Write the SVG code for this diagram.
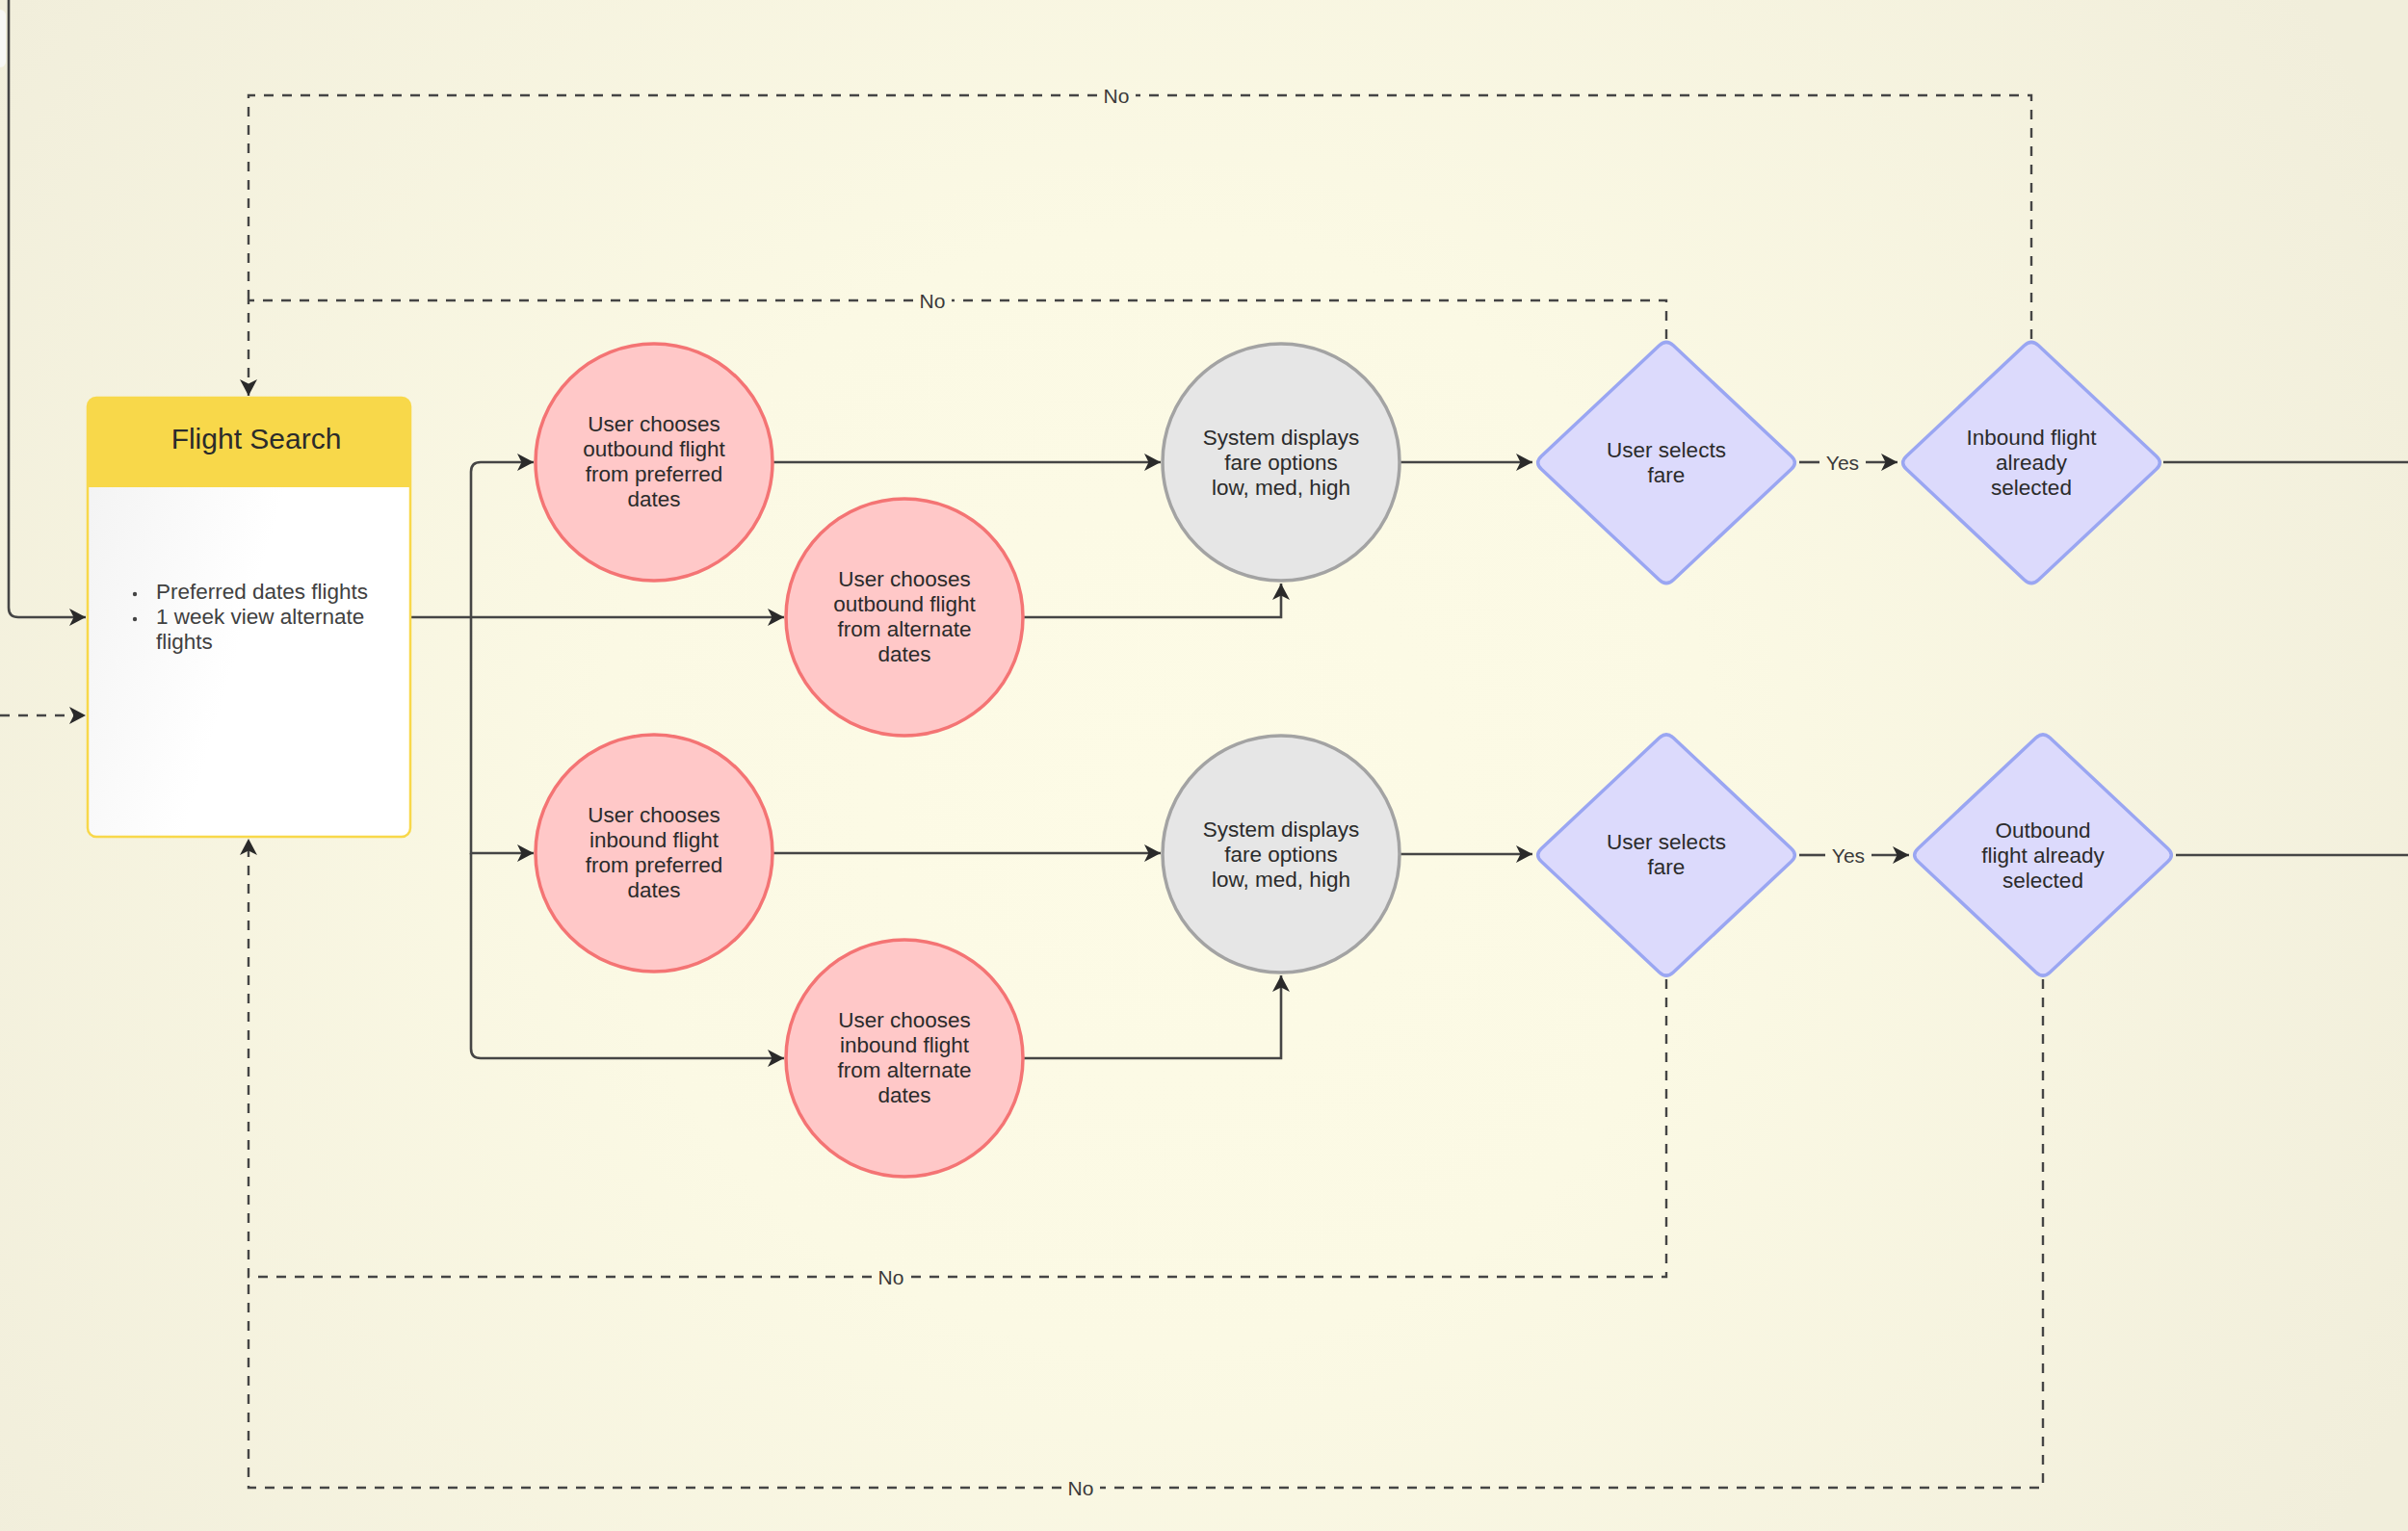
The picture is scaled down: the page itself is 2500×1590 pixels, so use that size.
<svg xmlns="http://www.w3.org/2000/svg" width="2500" height="1590" viewBox="0 0 2500 1590">
<defs>
<radialGradient id="bg" gradientUnits="userSpaceOnUse" cx="1200" cy="820" r="1450">
<stop offset="0" stop-color="#fdfbe6"/>
<stop offset="0.4" stop-color="#fbf9e4"/>
<stop offset="1" stop-color="#f1eedb"/>
</radialGradient>
<linearGradient id="body" x1="0" y1="0" x2="1" y2="0.4">
<stop offset="0" stop-color="#f2f2f2"/>
<stop offset="0.6" stop-color="#ffffff"/>
<stop offset="1" stop-color="#ffffff"/>
</linearGradient>
<marker id="arr" markerUnits="userSpaceOnUse" markerWidth="20" markerHeight="20" refX="17" refY="9" orient="auto">
<path d="M0,0 L17,9 L0,18 L4.5,9 Z" fill="#2a2a2a"/>
</marker>
<path id="diamond" d="M-7.3,-121.7 Q0,-128.5 7.3,-121.7 L129.7,-6.8 Q137,0 129.7,6.8 L7.3,121.7 Q0,128.5 -7.3,121.7 L-129.7,6.8 Q-137,0 -129.7,-6.8 Z"/>
<style>
.txt{font-family:"Liberation Sans",Arial,sans-serif;fill:#2b2b2b;text-anchor:middle;}
.ntxt{font-size:22.5px;}
.lbl{font-family:"Liberation Sans",Arial,sans-serif;fill:#3a3a3a;font-size:21px;text-anchor:middle;}
.red{fill:#ffc8c8;stroke:#f47474;stroke-width:3.5;}
.gray{fill:#e6e6e6;stroke:#a3a3a3;stroke-width:3.5;}
.dia{fill:#dcdafc;stroke:#9aa6f2;stroke-width:3.5;}
.conn{fill:none;stroke:#454545;stroke-width:2.6;}
.dash{fill:none;stroke:#454545;stroke-width:2.4;stroke-dasharray:10,9;}
</style>
</defs>
<rect x="0" y="0" width="2500" height="1590" fill="url(#bg)"/>
<rect x="-20" y="10" width="26" height="60" rx="6" fill="#f8f8f6"/>

<g id="connectors">
<path class="conn" d="M9,0 V631 Q9,641 19,641 H89" marker-end="url(#arr)"/>
<path class="dash" d="M0,743 H89" marker-end="url(#arr)"/>
<path class="conn" d="M426,641 H814" marker-end="url(#arr)"/>
<path class="conn" d="M489,641 V490 Q489,480 499,480 H554" marker-end="url(#arr)"/>
<path class="conn" d="M489,641 V886 H554" marker-end="url(#arr)"/>
<path class="conn" d="M489,886 V1089 Q489,1099 499,1099 H814" marker-end="url(#arr)"/>
<path class="conn" d="M803,480 H1205" marker-end="url(#arr)"/>
<path class="conn" d="M1063,641 H1330 V606" marker-end="url(#arr)"/>
<path class="conn" d="M803,886 H1205" marker-end="url(#arr)"/>
<path class="conn" d="M1063,1099 H1330 V1013" marker-end="url(#arr)"/>
<path class="conn" d="M1453,480 H1591" marker-end="url(#arr)"/>
<path class="conn" d="M1453,887 H1591" marker-end="url(#arr)"/>
<path class="conn" d="M1868,480 H1889"/>
<path class="conn" d="M1937,480 H1970" marker-end="url(#arr)"/>
<text class="lbl" x="1913" y="488">Yes</text>
<path class="conn" d="M1868,888 H1895"/>
<path class="conn" d="M1943,888 H1982" marker-end="url(#arr)"/>
<text class="lbl" x="1919" y="896">Yes</text>
<path class="conn" d="M2246,480 H2500"/>
<path class="conn" d="M2259,888 H2500"/>
<path class="dash" d="M1730,352 V312 H988"/>
<path class="dash" d="M948,312 H258 V411" marker-end="url(#arr)"/>
<text class="lbl" x="968" y="320">No</text>
<path class="dash" d="M2109,352 V99 H1179"/>
<path class="dash" d="M1139,99 H258 V312"/>
<text class="lbl" x="1159" y="107">No</text>
<path class="dash" d="M1730,1017 V1326 H945"/>
<path class="dash" d="M905,1326 H258 V871" marker-end="url(#arr)"/>
<text class="lbl" x="925" y="1334">No</text>
<path class="dash" d="M2121,1017 V1545 H1142"/>
<path class="dash" d="M1102,1545 H258 V1326"/>
<text class="lbl" x="1122" y="1553">No</text>
</g>

<g id="flight-search">
<rect x="91" y="413" width="335" height="456" rx="9" fill="url(#body)" stroke="#f8d84a" stroke-width="2.5"/>
<path d="M91,506 V422 Q91,413 100,413 H417 Q426,413 426,422 V506 Z" fill="#f8d84a"/>
<text class="txt" x="266" y="466" font-size="30">Flight Search</text>
<circle cx="140" cy="617" r="2.2" fill="#444"/>
<circle cx="140" cy="643" r="2.2" fill="#444"/>
<text font-family="Liberation Sans, Arial, sans-serif" font-size="22.5" fill="#404040">
<tspan x="162" y="622">Preferred dates flights</tspan>
<tspan x="162" y="648">1 week view alternate</tspan>
<tspan x="162" y="674">flights</tspan>
</text>
</g>

<g id="outbound-preferred">
<circle class="red" cx="679" cy="480" r="123"/>
<text class="txt ntxt"><tspan x="679" y="448">User chooses</tspan><tspan x="679" y="474">outbound flight</tspan><tspan x="679" y="500">from preferred</tspan><tspan x="679" y="526">dates</tspan></text>
</g>
<g id="outbound-alternate">
<circle class="red" cx="939" cy="641" r="123"/>
<text class="txt ntxt"><tspan x="939" y="609">User chooses</tspan><tspan x="939" y="635">outbound flight</tspan><tspan x="939" y="661">from alternate</tspan><tspan x="939" y="687">dates</tspan></text>
</g>
<g id="inbound-preferred">
<circle class="red" cx="679" cy="886" r="123"/>
<text class="txt ntxt"><tspan x="679" y="854">User chooses</tspan><tspan x="679" y="880">inbound flight</tspan><tspan x="679" y="906">from preferred</tspan><tspan x="679" y="932">dates</tspan></text>
</g>
<g id="inbound-alternate">
<circle class="red" cx="939" cy="1099" r="123"/>
<text class="txt ntxt"><tspan x="939" y="1067">User chooses</tspan><tspan x="939" y="1093">inbound flight</tspan><tspan x="939" y="1119">from alternate</tspan><tspan x="939" y="1145">dates</tspan></text>
</g>
<g id="fare-options-outbound">
<circle class="gray" cx="1330" cy="480" r="123"/>
<text class="txt ntxt"><tspan x="1330" y="462">System displays</tspan><tspan x="1330" y="488">fare options</tspan><tspan x="1330" y="514">low, med, high</tspan></text>
</g>
<g id="fare-options-inbound">
<circle class="gray" cx="1330" cy="887" r="123"/>
<text class="txt ntxt"><tspan x="1330" y="869">System displays</tspan><tspan x="1330" y="895">fare options</tspan><tspan x="1330" y="921">low, med, high</tspan></text>
</g>
<g id="select-fare-outbound">
<use href="#diamond" class="dia" transform="translate(1730,480.5)"/>
<text class="txt ntxt"><tspan x="1730" y="475">User selects</tspan><tspan x="1730" y="501">fare</tspan></text>
</g>
<g id="inbound-already-selected">
<use href="#diamond" class="dia" transform="translate(2109,480.5)"/>
<text class="txt ntxt"><tspan x="2109" y="462">Inbound flight</tspan><tspan x="2109" y="488">already</tspan><tspan x="2109" y="514">selected</tspan></text>
</g>
<g id="select-fare-inbound">
<use href="#diamond" class="dia" transform="translate(1730,888)"/>
<text class="txt ntxt"><tspan x="1730" y="882">User selects</tspan><tspan x="1730" y="908">fare</tspan></text>
</g>
<g id="outbound-already-selected">
<use href="#diamond" class="dia" transform="translate(2121,888)"/>
<text class="txt ntxt"><tspan x="2121" y="870">Outbound</tspan><tspan x="2121" y="896">flight already</tspan><tspan x="2121" y="922">selected</tspan></text>
</g>
</svg>
